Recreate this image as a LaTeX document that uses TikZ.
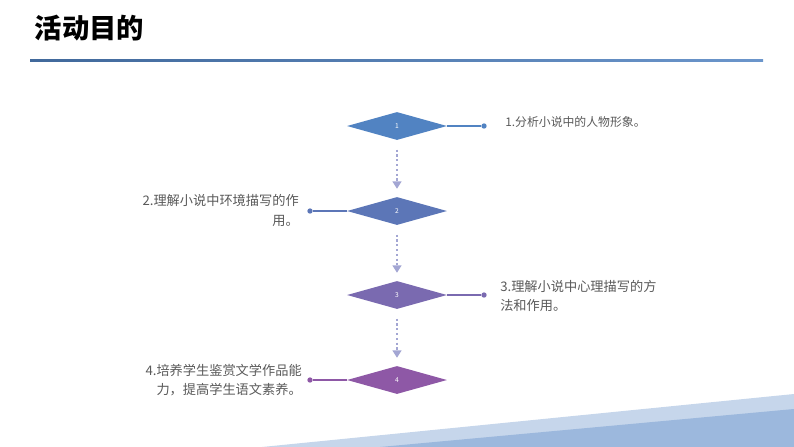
\documentclass[tikz,border=0pt]{standalone}
\usepackage{fontspec}
\setmainfont{Noto Sans CJK SC}
\usetikzlibrary{shapes.geometric}
\usetikzlibrary{arrows.meta}
\definecolor{mone}{HTML}{5183C2}
\definecolor{mtwo}{HTML}{5C76B7}
\definecolor{mthree}{HTML}{7A6AB0}
\definecolor{mfour}{HTML}{8E58A6}
\definecolor{mgrey}{HTML}{595959}
\definecolor{mflow}{HTML}{A3A6D3}
\definecolor{mlight}{HTML}{C6D6EB}
\definecolor{mdark}{HTML}{9CB8DD}
\tikzset{stage/.style = {diamond, fill=#1, text=white, inner sep=0, aspect=3.5,
                         minimum width=75pt, minimum height=21pt, font=\fontsize{5}{6}\selectfont}}
\tikzset{endpt/.style = {fill=#1, circle, inner sep=0, minimum size=4pt}}
\tikzset{goal/.style = {text=mgrey, inner sep=0, font=\fontsize{9.9}{14.3}\selectfont}}
\tikzset{flow/.style = {mflow, dotted, line width=1.6pt, shorten <=7pt, shorten >=6pt,
                        -{Triangle[width=7pt, length=5.5pt, line width=0pt]}}}

\begin{document}
\begin{tikzpicture}[x=0.75pt, y=-0.75pt]
    \useasboundingbox (0, 0) rectangle (794, 447);

    \node [anchor=west, font=\fontsize{20.5}{24}\selectfont\bfseries] (title) at (30, 28) {活动目的};
    \shade [left color=mone!80!black, right color=mone!85!white] (30, 59) rectangle (763, 61.5);

    \fill [mlight] (262, 447) -- (794, 394) -- (794, 447) -- cycle;
    \fill [mdark] (380, 447) -- (794, 409) -- (794, 447) -- cycle;

    \node [stage=mone] (d1) at (397, 126) {1};
    \node [stage=mtwo] (d2) at (397, 211) {2};
    \node [stage=mthree] (d3) at (397, 295) {3};
    \node [stage=mfour] (d4) at (397, 380) {4};

    \draw [flow] (d1.south) -- (d2.north);
    \draw [flow] (d2.south) -- (d3.north);
    \draw [flow] (d3.south) -- (d4.north);

    \node [endpt=mone] (p1) at (484, 126) {};
    \node [endpt=mtwo] (p2) at (310, 211) {};
    \node [endpt=mthree] (p3) at (484, 295) {};
    \node [endpt=mfour] (p4) at (310, 380) {};

    \draw [mone, line width=1.1pt] (d1.east) -- (p1);
    \draw [mtwo, line width=1.1pt] (d2.west) -- (p2);
    \draw [mthree, line width=1.1pt] (d3.east) -- (p3);
    \draw [mfour, line width=1.1pt] (d4.west) -- (p4);

    \node [goal, anchor=west, font=\fontsize{8.9}{14.3}\selectfont] (t1) at (505, 122) {1.分析小说中的人物形象。};
    \node [goal, anchor=east, align=right] (t2) at (299, 210.5) {2.理解小说中环境描写的作\\用。};
    \node [goal, anchor=west, align=left] (t3) at (500, 296) {3.理解小说中心理描写的方\\法和作用。};
    \node [goal, anchor=east, align=right] (t4) at (302, 380) {4.培养学生鉴赏文学作品能\\力，提高学生语文素养。};
\end{tikzpicture}
\end{document}
